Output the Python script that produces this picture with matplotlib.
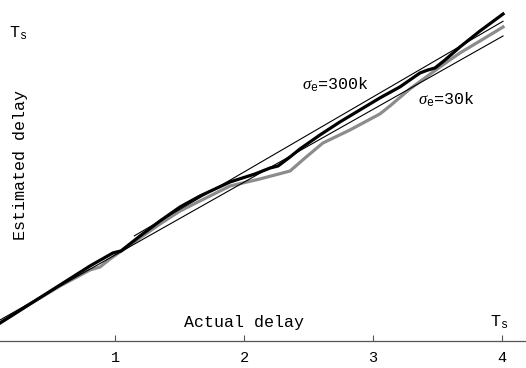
import matplotlib
matplotlib.use("Agg")
import matplotlib.pyplot as plt

plt.rcParams['font.family'] = ['Liberation Mono', 'DejaVu Sans']
plt.rcParams['mathtext.fontset'] = 'custom'
plt.rcParams['mathtext.rm'] = 'Liberation Mono'
plt.rcParams['mathtext.it'] = 'Liberation Serif:italic'

# estimated delay vs actual delay (units of Ts/4 on the x axis)
x_300k = [0.109, 0.341, 0.574, 0.806, 0.984, 1.047, 1.194, 1.349, 1.504, 1.659,
          1.891, 2.085, 2.202, 2.264, 2.357, 2.434, 2.589, 2.744, 2.899, 3.054,
          3.209, 3.364, 3.426, 3.481, 3.558, 3.674, 3.829, 4.008]
y_300k = [0.067, 0.328, 0.589, 0.850, 1.029, 1.057, 1.262, 1.468, 1.660, 1.811,
          2.003, 2.113, 2.195, 2.223, 2.347, 2.457, 2.649, 2.828, 2.993, 3.158,
          3.309, 3.500, 3.541, 3.569, 3.678, 3.857, 4.076, 4.310]

x_30k = [0.109, 0.341, 0.574, 0.806, 0.884, 0.961, 1.062, 1.194, 1.349, 1.504,
         1.659, 1.891, 2.124, 2.357, 2.473, 2.612, 2.822, 3.054, 3.132, 3.287,
         3.403, 3.519, 3.674, 3.829, 4.008]
y_30k = [0.067, 0.328, 0.575, 0.795, 0.836, 0.946, 1.070, 1.235, 1.427, 1.605,
         1.743, 1.948, 2.045, 2.154, 2.333, 2.539, 2.718, 2.938, 3.048, 3.282,
         3.433, 3.583, 3.775, 3.939, 4.131]

# thin reference lines
ideal_x = [0.109, 4.008]
ideal_y = [0.109, 4.008]
fit_x = [1.15, 4.008]
fit_y = [1.264, 4.210]

xticks = [1, 2, 3, 4]
xtick_labels = ['1', '2', '3', '4']

fig = plt.figure(figsize=(5.26, 3.68), dpi=100)
ax = fig.add_axes([0, 0, 1, 1])

ax.plot(x_30k, y_30k, color='#8c8c8c', lw=2.3, solid_joinstyle='round', zorder=2)
ax.plot(x_300k, y_300k, color='black', lw=2.3, solid_joinstyle='round', zorder=3)
ax.plot(ideal_x, ideal_y, color='black', lw=0.8, zorder=4)
ax.plot(fit_x, fit_y, color='black', lw=0.8, zorder=4)

ax.set_xlim(0.1085, 4.186)
ax.set_ylim(-0.551, 4.502)

for s in ['top', 'right', 'left']:
    ax.spines[s].set_visible(False)
ax.spines['bottom'].set_position(('data', -0.18))
ax.spines['bottom'].set_color('#555555')
ax.spines['bottom'].set_linewidth(0.9)
ax.set_yticks([])
ax.set_xticks(xticks)
ax.set_xticklabels(xtick_labels, fontsize=11)
ax.tick_params(axis='x', direction='in', length=4, width=0.8, color='#555555', pad=7)

ax.text(2.0, 0.067, 'Actual delay', fontsize=12, ha='center', va='center')
ax.text(3.98, 0.08, r'T$_\mathrm{s}$', fontsize=12, ha='center', va='center')
ax.text(0.248, 4.05, r'T$_\mathrm{s}$', fontsize=12, ha='center', va='center')
ax.text(0.264, 2.24, 'Estimated delay', fontsize=12, ha='center', va='center',
        rotation=90)
ax.text(2.705, 3.335, r'$\sigma_\mathrm{e}$=300k', fontsize=12, ha='center', va='center')
ax.text(3.566, 3.128, r'$\sigma_\mathrm{e}$=30k', fontsize=12, ha='center', va='center')

fig.savefig('out.png', dpi=100)
